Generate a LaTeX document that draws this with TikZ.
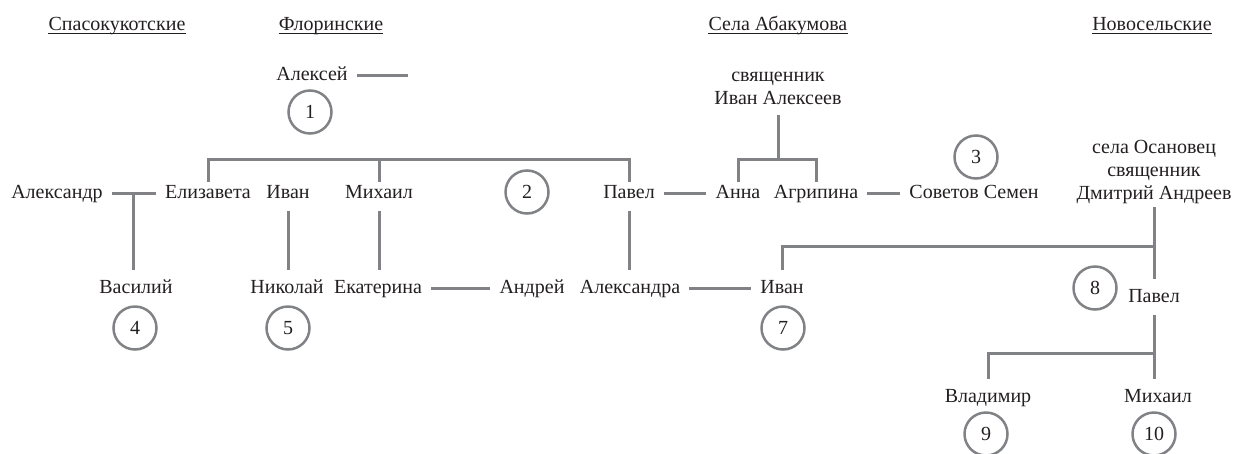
\documentclass[tikz,border=0pt]{standalone}
\usepackage{fontspec}
\setmainfont{Liberation Serif}
\usepackage{tikz}
\definecolor{linegray}{RGB}{128,130,133}
\definecolor{inkblack}{RGB}{35,31,32}

\begin{document}
\begin{tikzpicture}[x=1pt,y=-1pt,
      person/.style={
         font=\fontsize{20}{23}\selectfont,
         text=inkblack,
         inner xsep=9pt,
         inner ysep=9pt,
         text height=14pt,
         text depth=4pt
      },
      note/.style={
         font=\fontsize{20}{23}\selectfont,
         text=inkblack,
         align=center,
         inner xsep=0pt,
         inner ysep=8pt
      },
      header/.style={person, inner sep=0pt},
      num/.style={
         circle,
         draw=linegray,
         line width=2.5pt,
         minimum size=43pt,
         inner sep=0pt,
         font=\fontsize{20}{23}\selectfont,
         text=inkblack
      },
      link/.style={draw=linegray, line width=3pt},
      uline/.style={draw=inkblack, line width=0.9pt}
    ]
    \useasboundingbox (0,0) rectangle (1236,453);
    % family headers
    \node (h1) [header] at (117,25) {Спасокукотские};
    \node (h2) [header] at (331,25) {Флоринские};
    \node (h3) [header] at (778,25) {Села Абакумова};
    \node (h4) [header] at (1152,25) {Новосельские};
    \foreach \h in {h1,h2,h3,h4}
       \draw[uline] ([yshift=-3pt]\h.base west) -- ([yshift=-3pt]\h.base east);
    % first generation
    \node (aleksey) [person] at (312,75) {Алексей};
    \coordinate (alekseyR) at (408,75);
    \node (n1) [num] at (310,112) {1};
    \node (ivanAl) [note, anchor=south, inner ysep=10pt] at (778,115) {священник\\Иван Алексеев};
    \node (dmitriy) [note, anchor=south, inner ysep=3pt] at (1154,207) {села Осановец\\священник\\Дмитрий Андреев};
    % second row
    \node (aleksandr) [person] at (57,193) {Александр};
    \node (elizaveta) [person] at (208,193) {Елизавета};
    \node (ivan1) [person] at (288,193) {Иван};
    \node (mikhail1) [person] at (379,193) {Михаил};
    \node (n2) [num] at (527,192) {2};
    \node (pavel1) [person] at (629,193) {Павел};
    \node (anna) [person] at (738,193) {Анна};
    \node (agripina) [person] at (816,193) {Агрипина};
    \node (sovetov) [person] at (974,193) {Советов Семен};
    \node (n3) [num] at (976,157) {3};
    % third row
    \node (vasiliy) [person] at (136,288) {Василий};
    \node (n4) [num] at (135,328) {4};
    \node (nikolay) [person] at (287,288) {Николай};
    \node (n5) [num] at (288,328) {5};
    \node (ekaterina) [person] at (378,288) {Екатерина};
    \node (andrey) [person] at (532,288) {Андрей};
    \node (aleksandra) [person] at (630,288) {Александра};
    \node (ivan2) [person] at (782,288) {Иван};
    \node (n7) [num] at (783,328) {7};
    \node (n8) [num] at (1095,288) {8};
    \node (pavel2) [person] at (1154,297) {Павел};
    % fourth row
    \node (vladimir) [person] at (988,397) {Владимир};
    \node (n9) [num] at (986,434) {9};
    \node (mikhail2) [person] at (1158,397) {Михаил};
    \node (n10) [num] at (1154,434) {10};
    % links
    \coordinate (bar1) at (379,159);
    \coordinate (bar2) at (778,159);
    \coordinate (bar3) at (1154,246);
    \coordinate (bar4) at (1154,353);
    \draw[link] (aleksey) -- (alekseyR);
    \draw[link] ([yshift=-7pt]elizaveta.north) |- (bar1) -| ([yshift=-7pt]pavel1.north);
    \draw[link] (bar1) -- ([yshift=-7pt]mikhail1.north);
    \draw[link] (aleksandr) -- coordinate (m1) (elizaveta);
    \draw[link] (m1) -- (m1 |- vasiliy.north);
    \draw[link] (ivan1) -- (ivan1 |- nikolay.north);
    \draw[link] (mikhail1) -- (mikhail1 |- ekaterina.north);
    \draw[link] (ekaterina) -- (andrey);
    \draw[link] (pavel1) -- (anna);
    \draw[link] (pavel1.south) -- (pavel1.south |- aleksandra.north);
    \draw[link] (aleksandra) -- (ivan2);
    \draw[link] (agripina) -- (sovetov);
    \draw[link] (ivanAl.south) -- (bar2);
    \draw[link] ([yshift=-7pt]anna.north) |- (bar2) -| ([yshift=-7pt]agripina.north);
    \draw[link] (dmitriy.south) -- (pavel2);
    \draw[link] (bar3) -| (ivan2);
    \draw[link] (pavel2) -- (pavel2 |- mikhail2.north);
    \draw[link] (bar4) -| (vladimir);
\end{tikzpicture}
\end{document}
